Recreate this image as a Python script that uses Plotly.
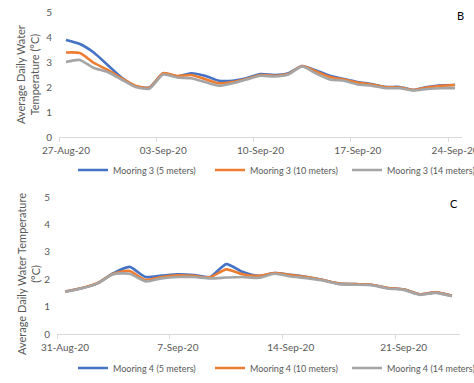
import pandas as pd
import plotly.graph_objects as go

# ---- Data ----
top_start = "2020-08-27"
top_blue = [3.88, 3.72, 3.38, 2.88, 2.38, 2.03, 1.98, 2.55, 2.42, 2.55, 2.45, 2.25, 2.25, 2.35, 2.52,
            2.48, 2.55, 2.84, 2.66, 2.45, 2.32, 2.2, 2.12, 2.0, 2.0, 1.88, 2.0, 2.07, 2.08]
top_orange = [3.38, 3.36, 2.97, 2.68, 2.35, 2.05, 1.97, 2.55, 2.44, 2.48, 2.32, 2.15, 2.2, 2.32, 2.48,
              2.45, 2.52, 2.84, 2.62, 2.4, 2.3, 2.18, 2.1, 2.0, 1.98, 1.88, 1.98, 2.05, 2.08]
top_gray = [3.0, 3.08, 2.76, 2.6, 2.3, 2.0, 1.93, 2.5, 2.38, 2.35, 2.2, 2.05, 2.15, 2.3, 2.45,
            2.42, 2.5, 2.82, 2.54, 2.3, 2.25, 2.1, 2.05, 1.95, 1.95, 1.86, 1.92, 1.95, 1.95]
top_names = ["Mooring 3 (5 meters)", "Mooring 3 (10 meters)", "Mooring 3 (14 meters)"]
top_ticks = ["2020-08-27", "2020-09-03", "2020-09-10", "2020-09-17", "2020-09-24"]
top_ticktext = ["27-Aug-20", "03-Sep-20", "10-Sep-20", "17-Sep-20", "24-Sep-20"]

bot_start = "2020-08-31"
bot_blue = [1.55, 1.67, 1.85, 2.22, 2.45, 2.08, 2.13, 2.18, 2.15, 2.08, 2.55, 2.27, 2.12,
            2.22, 2.16, 2.08, 1.97, 1.84, 1.82, 1.8, 1.68, 1.63, 1.45, 1.52, 1.4]
bot_orange = [1.55, 1.67, 1.85, 2.2, 2.3, 1.97, 2.08, 2.14, 2.12, 2.07, 2.36, 2.18, 2.12,
              2.22, 2.15, 2.08, 1.97, 1.84, 1.82, 1.8, 1.68, 1.63, 1.45, 1.52, 1.4]
bot_gray = [1.54, 1.66, 1.84, 2.18, 2.2, 1.92, 2.03, 2.08, 2.08, 2.03, 2.06, 2.08, 2.05,
            2.2, 2.1, 2.04, 1.95, 1.82, 1.8, 1.78, 1.66, 1.61, 1.43, 1.5, 1.38]
bot_names = ["Mooring 4 (5 meters)", "Mooring 4 (10 meters)", "Mooring 4 (14 meters)"]
bot_ticks = ["2020-08-31", "2020-09-07", "2020-09-14", "2020-09-21"]
bot_ticktext = ["31-Aug-20", "7-Sep-20", "14-Sep-20", "21-Sep-20"]

colors = ["#4472C4", "#ED7D31", "#A5A5A5"]
FONT = "Lato"
GREY = "#595959"

half = pd.Timedelta(hours=12)
top_x = pd.date_range(top_start, periods=len(top_blue), freq="D") + half
bot_x = pd.date_range(bot_start, periods=len(bot_blue), freq="D") + half

fig = go.Figure()
for ys, name, c in zip([top_blue, top_orange, top_gray], top_names, colors):
    fig.add_trace(go.Scatter(x=top_x, y=ys, name=name, mode="lines",
                             line=dict(color=c, width=2.6, shape="spline", smoothing=0.6),
                             xaxis="x", yaxis="y", legend="legend"))
for ys, name, c in zip([bot_blue, bot_orange, bot_gray], bot_names, colors):
    fig.add_trace(go.Scatter(x=bot_x, y=ys, name=name, mode="lines",
                             line=dict(color=c, width=2.6, shape="spline", smoothing=0.6),
                             xaxis="x2", yaxis="y2", legend="legend2"))

W, H = 474, 383
def dx(a, b):
    return [a / W, b / W]
def dy(top, bottom):
    return [(H - bottom) / H, (H - top) / H]

def xaxis(domain, anchor, start, end, ticks, text):
    return dict(domain=domain, anchor=anchor, type="date",
                range=[start, end], automargin=False,
                tickvals=[pd.Timestamp(t) + half for t in ticks], ticktext=text,
                ticks="", showgrid=False, zeroline=False, ticklabeloverflow="allow",
                showline=True, linecolor="#D9D9D9", linewidth=1,
                tickfont=dict(family=FONT, size=10, color=GREY),
                ticklabelstandoff=4,
                minor=dict(ticks="outside", ticklen=4, tickcolor="#D9D9D9",
                           tick0=start, dtick=7 * 86400000, showgrid=False))

def yaxis(domain, anchor):
    return dict(domain=domain, anchor=anchor, range=[0, 5], dtick=1, automargin=False,
                showgrid=False, zeroline=False, showline=False, ticks="",
                tickfont=dict(family=FONT, size=10, color=GREY),
                ticklabelstandoff=6)

def legend(ypix):
    return dict(orientation="h", x=73 / W, y=(H - ypix) / H, xanchor="left", yanchor="middle",
                entrywidth=92, entrywidthmode="pixels", itemwidth=30, tracegroupgap=0,
                font=dict(family=FONT, size=9, color=GREY), bgcolor="rgba(0,0,0,0)")

fig.update_layout(
    width=W, height=H,
    margin=dict(l=0, r=0, t=0, b=0, autoexpand=False),
    paper_bgcolor="white", plot_bgcolor="white",
    font=dict(family=FONT, color=GREY),
    xaxis=xaxis(dx(59, 462), "y", "2020-08-27", "2020-09-25", top_ticks, top_ticktext),
    yaxis=yaxis(dy(12, 137), "x"),
    xaxis2=xaxis(dx(57, 460), "y2", "2020-08-31", "2020-09-25", bot_ticks, bot_ticktext),
    yaxis2=yaxis(dy(197, 334), "x2"),
    legend=legend(170),
    legend2=legend(368),
    showlegend=True,
)

ann = [
    dict(text="Average Daily Water<br>Temperature (°C)", x=28 / W, y=(H - 75) / H,
         textangle=-90, font=dict(family=FONT, size=11, color=GREY)),
    dict(text="Average Daily Water Temperature<br>(°C)", x=28 / W, y=(H - 274) / H,
         textangle=-90, font=dict(family=FONT, size=11, color=GREY)),
    dict(text="B", x=460 / W, y=(H - 16) / H, font=dict(family=FONT, size=11, color="black")),
    dict(text="C", x=454 / W, y=(H - 203) / H, font=dict(family=FONT, size=11, color="black")),
]
for a in ann:
    a.update(xref="paper", yref="paper", showarrow=False, xanchor="center", yanchor="middle")
fig.update_layout(annotations=ann)

fig.write_html("out.html", config={"displayModeBar": False},
               post_script="document.body.style.margin='0';document.body.style.overflow='hidden';")
